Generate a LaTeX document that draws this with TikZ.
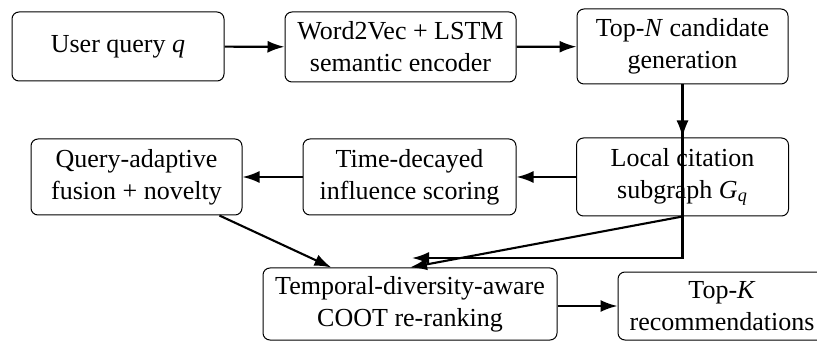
\documentclass[tikz,border=0pt]{standalone}
\usepackage{fontspec}
\setmainfont{Liberation Serif}
\usetikzlibrary{arrows.meta}
\begin{document}
\begin{tikzpicture}[x=0.5pt,y=-0.5pt,
  stage/.style={draw, rounded corners=3.5pt, line width=0.5pt, align=center,
    inner sep=0pt, font=\fontsize{13}{16}\selectfont},
  flow/.style={-{Latex[length=8.5pt,width=6pt]}, line width=1.05pt}]
\useasboundingbox (0,0) rectangle (817,341);

% pipeline stages
\node[stage, minimum width=106pt,   minimum height=34.5pt] (user)   at (118,46.5)  {User query \textit{q}};
\node[stage, minimum width=115.5pt, minimum height=35pt]   (enc)    at (400.5,47)  {Word2Vec + LSTM\\semantic encoder};
\node[stage, minimum width=105.5pt, minimum height=37.5pt] (cand)   at (682.5,46.5){Top-\textit{N} candidate\\generation};
\node[stage, minimum width=106pt,   minimum height=39pt]   (local)  at (682.5,177) {Local citation\\subgraph \textit{G}\textsubscript{\textit{q}}};
\node[stage, minimum width=106.5pt, minimum height=38pt]   (decay)  at (409.5,177) {Time-decayed\\influence scoring};
\node[stage, minimum width=105.5pt, minimum height=38pt]   (fusion) at (136.5,177) {Query-adaptive\\fusion + novelty};
\node[stage, minimum width=147pt,   minimum height=36pt]   (rerank) at (410,304)   {Temporal-diversity-aware\\COOT re-ranking};
\node[stage, minimum width=104pt,   minimum height=34pt]   (topk)   at (722,306)   {Top-\textit{K}\\recommendations};

% connectors
\coordinate (mergetip) at (412,258);
\draw[flow] (user) -- (enc);
\draw[flow] (enc) -- (cand);
\draw[flow] (cand) -- (local);
\draw[flow] (cand.south) |- (mergetip);
\draw[flow] (local) -- (decay);
\draw[flow] (decay) -- (fusion);
\draw[flow] (local.south) -- (rerank.north);
\draw[flow] (fusion) -- (rerank);
\draw[flow] (rerank.east |- topk.west) -- (topk.west);
\end{tikzpicture}
\end{document}
